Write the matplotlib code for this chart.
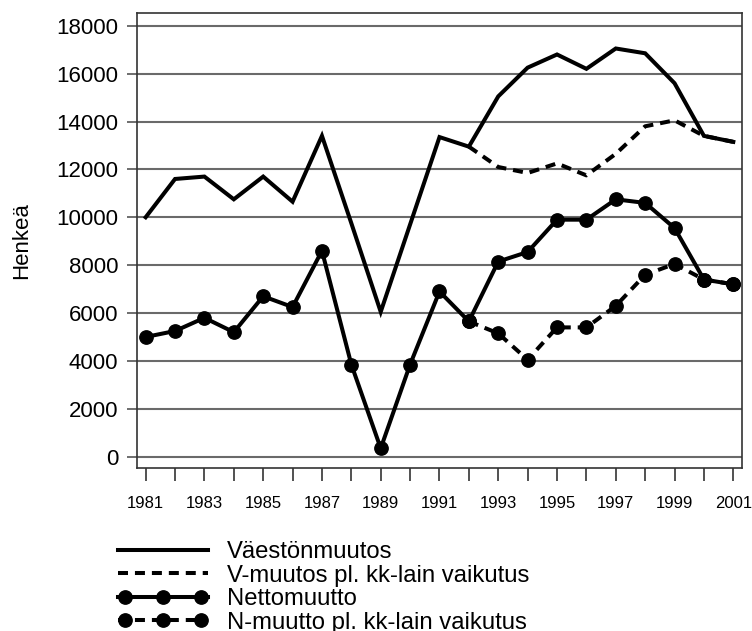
import matplotlib
matplotlib.use("Agg")
import matplotlib.pyplot as plt
from matplotlib.lines import Line2D
import numpy as np

plt.rcParams['font.family'] = ['Liberation Sans', 'DejaVu Sans']
plt.rcParams['lines.scale_dashes'] = False

years = list(range(1981, 2002))
vaeston = [10000, 11600, 11700, 10750, 11700, 10650, 13400, 9750, 6050, 9700,
           13350, 12950, 15050, 16250, 16800, 16200, 17050, 16850, 15600, 13400, 13150]
v_years = list(range(1992, 2002))
v_muutos = [12950, 12100, 11850, 12250, 11750, 12650, 13800, 14050, 13400, 13150]
netto = [5000, 5250, 5800, 5200, 6700, 6250, 8600, 3850, 350, 3850,
         6900, 5650, 8150, 8550, 9900, 9900, 10750, 10600, 9550, 7400, 7200]
n_years = list(range(1992, 2002))
n_muutos = [5650, 5150, 4050, 5400, 5400, 6300, 7600, 8050, 7400, 7200]
yticks = list(range(0, 18001, 2000))
labels = ['Väestönmuutos', 'V-muutos pl. kk-lain vaikutus',
          'Nettomuutto', 'N-muutto pl. kk-lain vaikutus']

W, H = 752, 631
fig = plt.figure(figsize=(W / 100, H / 100), dpi=100)
ax = fig.add_axes([136.7 / W, 1 - 468.3 / H, (742.3 - 136.7) / W, (468.3 - 13.3) / H])

LW = 2.9
MS = 9.6
DASH = (0, (7.2, 5.0))

for y in yticks:
    ax.axhline(y, color='#6a6a6a', lw=1.5, zorder=1)

ax.plot(v_years, v_muutos, color='black', lw=LW, linestyle=DASH, zorder=3)
ax.plot(years, vaeston, color='black', lw=LW, zorder=4, solid_joinstyle='miter')
ax.plot(n_years, n_muutos, color='black', lw=LW, linestyle=DASH, marker='o',
        markersize=MS, zorder=3)
ax.plot(years, netto, color='black', lw=LW, marker='o', markersize=MS, zorder=4)

ax.set_xlim(1980.695, 2001.306)
ax.set_ylim(-485, 18520)
ax.set_yticks(yticks)
ax.set_yticklabels([str(v) for v in yticks])
ax.set_xticks(years)
ax.set_xticklabels([str(y) if y % 2 == 1 else '' for y in years])
ax.tick_params(axis='y', direction='out', length=7.2, width=1.2, color='#555555',
               labelsize=16, pad=6)
ax.tick_params(axis='x', direction='out', length=9, width=1.2, color='#333333',
               labelsize=12, pad=11)
for s in ax.spines.values():
    s.set_color('#333333')
    s.set_linewidth(1.2)

fig.text(22 / W, 1 - 241 / H, 'Henkeä', rotation=90, ha='center', va='center',
         fontsize=16)

# legend (manual)
rows = [550, 573.3, 596.7, 620]
x0, x1 = 118, 208
mx = [125, 163, 201]
styles = [('-', None), (DASH, None), ('-', 'o'), (DASH, 'o')]
for (ls, mk), yr, lab in zip(styles, rows, labels):
    fy = 1 - yr / H
    fig.add_artist(Line2D([x0 / W, x1 / W], [fy, fy], transform=fig.transFigure,
                          color='black', lw=LW, linestyle=ls))
    if mk:
        fig.add_artist(Line2D([m / W for m in mx], [fy] * 3, transform=fig.transFigure,
                              color='black', lw=0, marker='o', markersize=MS))
    fig.text(226.7 / W, fy, lab, ha='left', va='center_baseline', fontsize=17.2)

fig.savefig('out.png', dpi=100)
